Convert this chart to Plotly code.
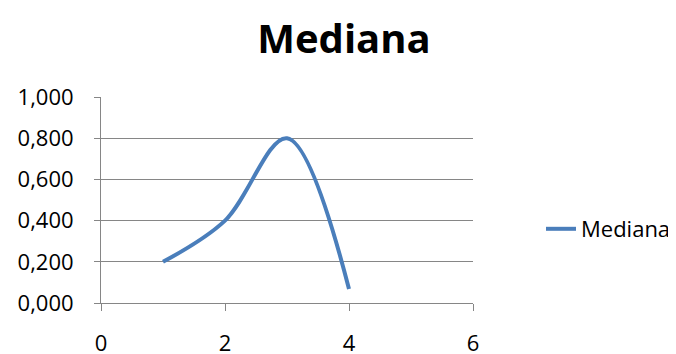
import plotly.graph_objects as go

x_vals = [1, 2, 3, 4]
mediana = [0.2, 0.4, 0.80, 0.068]
x_ticks = [0, 2, 4, 6]
y_ticks = [0, 0.2, 0.4, 0.6, 0.8, 1.0]
y_tick_labels = ["0,000", "0,200", "0,400", "0,600", "0,800", "1,000"]

FONT = "Open Sans"
GRID = "#868686"

# page body has an 8px default margin, so the figure is drawn 8px in and down
W, H = 700, 346
L, T = 93, 89
PW, PH = 372, 206

fig = go.Figure()
fig.add_trace(go.Scatter(
    x=x_vals, y=mediana, mode="lines", name="Mediana",
    line=dict(color="#4A7EBB", width=4, shape="spline", smoothing=1.0),
))

fig.update_layout(
    width=W, height=H,
    margin=dict(l=L, r=W - L - PW, t=T, b=H - T - PH),
    paper_bgcolor="white", plot_bgcolor="white",
    title=dict(text="<b>Mediana</b>", x=(L + 243) / W, xanchor="center", y=1 - 31 / H, yanchor="middle",
               font=dict(family=FONT, size=40, color="black")),
    font=dict(family=FONT, size=22, color="black"),
    showlegend=True,
    legend=dict(x=1 + 68 / PW, xanchor="left", y=(303 - 229) / PH, yanchor="middle",
                font=dict(family=FONT, size=22, color="black"),
                bgcolor="rgba(0,0,0,0)"),
    xaxis=dict(range=[0, 6], tickvals=x_ticks, showgrid=False, zeroline=False,
               showline=True, linecolor=GRID, linewidth=1, automargin=False,
               ticks="outside", ticklen=7, tickcolor=GRID,
               ticklabelstandoff=14, tickfont=dict(size=22)),
    yaxis=dict(range=[0, 1.0], tickvals=y_ticks, ticktext=y_tick_labels,
               showgrid=True, gridcolor=GRID, gridwidth=1, zeroline=False,
               showline=True, linecolor=GRID, linewidth=1, automargin=False,
               ticks="outside", ticklen=6, tickcolor=GRID,
               ticklabelstandoff=16, tickfont=dict(size=22)),
)

fig.write_html("out.html")
